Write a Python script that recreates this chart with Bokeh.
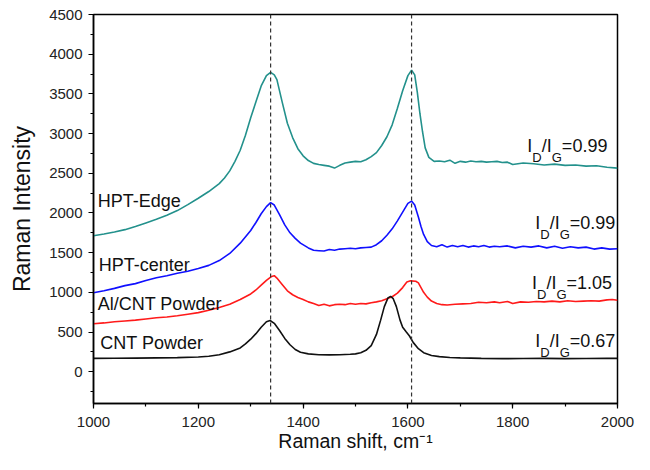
from bokeh.plotting import figure
from bokeh.models import Range1d, SingleIntervalTicker, Span, Label
from bokeh.embed import file_html
from bokeh.resources import INLINE

# ---------------- data ----------------
edge_x = [1000, 1020, 1040, 1060, 1080, 1100, 1120, 1140, 1160, 1180, 1200, 1220, 1240, 1250,
          1260, 1270, 1280, 1290, 1300, 1310, 1320, 1330, 1338, 1345, 1350, 1360, 1370, 1380,
          1390, 1400, 1410, 1420, 1430, 1440, 1450, 1460, 1470, 1480, 1490, 1500, 1510, 1520,
          1530, 1540, 1550, 1560, 1570, 1580, 1590, 1600, 1607, 1613, 1618, 1623, 1628, 1633,
          1640, 1650, 1660, 1670, 1680, 1690, 1700, 1710, 1720, 1730, 1740, 1750, 1760, 1770,
          1780, 1790, 1800, 1820, 1840, 1860, 1880, 1900, 1920, 1940, 1960, 1980, 2000]
edge_y = [1713, 1735, 1760, 1790, 1830, 1875, 1920, 1970, 2030, 2105, 2185, 2270, 2370, 2440,
          2530, 2650, 2790, 2980, 3200, 3400, 3600, 3730, 3770, 3740, 3680, 3400, 3130, 2950,
          2810, 2720, 2660, 2625, 2610, 2600, 2590, 2565, 2600, 2630, 2640, 2650, 2645, 2670,
          2710, 2760, 2850, 2960, 3110, 3320, 3540, 3730, 3800, 3740, 3520, 3250, 3020, 2820,
          2700, 2650, 2655, 2645, 2665, 2625, 2650, 2640, 2655, 2645, 2650, 2640, 2645, 2650,
          2635, 2640, 2610, 2630, 2620, 2605, 2615, 2600, 2605, 2590, 2595, 2575, 2565]

center_x = [1000, 1020, 1040, 1060, 1080, 1100, 1120, 1140, 1160, 1180, 1200, 1220, 1240, 1260,
            1280, 1300, 1310, 1320, 1330, 1338, 1345, 1355, 1365, 1375, 1385, 1395, 1410, 1420,
            1430, 1440, 1450, 1460, 1470, 1480, 1490, 1500, 1510, 1520, 1530, 1540, 1550, 1560,
            1570, 1580, 1590, 1600, 1607, 1613, 1620, 1625, 1630, 1637, 1645, 1655, 1665, 1675,
            1685, 1695, 1705, 1715, 1725, 1735, 1745, 1755, 1765, 1775, 1790, 1805, 1820, 1835,
            1850, 1865, 1880, 1895, 1910, 1925, 1940, 1955, 1970, 1985, 2000]
center_y = [995, 1020, 1050, 1085, 1110, 1150, 1185, 1210, 1240, 1265, 1300, 1340, 1400, 1490,
            1620, 1780, 1880, 1990, 2080, 2130, 2100, 1980, 1850, 1750, 1680, 1620, 1560, 1530,
            1525, 1520, 1540, 1530, 1545, 1550, 1555, 1550, 1560, 1565, 1570, 1600, 1650, 1720,
            1800, 1900, 2010, 2120, 2150, 2100, 1950, 1830, 1730, 1640, 1590, 1575, 1600, 1570,
            1590, 1575, 1590, 1570, 1585, 1575, 1590, 1570, 1580, 1575, 1585, 1560, 1580, 1570,
            1585, 1560, 1580, 1555, 1575, 1560, 1570, 1545, 1560, 1545, 1550]

alcnt_x = [1000, 1020, 1040, 1060, 1080, 1100, 1120, 1140, 1160, 1180, 1200, 1220, 1240, 1260,
           1280, 1300, 1310, 1320, 1330, 1340, 1345, 1350, 1360, 1370, 1380, 1390, 1400, 1410,
           1420, 1430, 1440, 1450, 1460, 1470, 1480, 1490, 1500, 1510, 1520, 1530, 1540, 1550,
           1560, 1570, 1580, 1590, 1598, 1605, 1615, 1620, 1625, 1630, 1637, 1645, 1655, 1665,
           1675, 1690, 1705, 1720, 1735, 1750, 1765, 1775, 1790, 1800, 1815, 1830, 1845, 1860,
           1875, 1890, 1905, 1920, 1935, 1950, 1965, 1980, 1990, 2000]
alcnt_y = [605, 615, 630, 640, 650, 665, 680, 690, 705, 725, 745, 775, 810, 850,
           910, 980, 1030, 1090, 1150, 1200, 1210, 1180, 1100, 1020, 970, 935, 910, 880,
           860, 835, 850, 830, 845, 850, 845, 860, 850, 860, 855, 870, 880, 895,
           920, 945, 990, 1060, 1130, 1145, 1140, 1120, 1060, 1000, 940, 890, 860, 845,
           840, 850, 855, 860, 875, 870, 880, 870, 885, 860, 880, 875, 885, 880,
           890, 880, 895, 885, 890, 895, 890, 905, 910, 900]

cnt_x = [1000, 1040, 1080, 1120, 1160, 1200, 1220, 1240, 1260, 1280, 1290, 1300, 1310, 1320,
         1330, 1337, 1345, 1355, 1365, 1375, 1385, 1395, 1410, 1430, 1450, 1470, 1490, 1500,
         1510, 1520, 1530, 1540, 1548, 1555, 1562, 1567, 1572, 1578, 1585, 1590, 1597, 1603,
         1610, 1620, 1630, 1645, 1660, 1680, 1700, 1740, 1780, 1820, 1860, 1900, 1940, 1980, 2000]
cnt_y = [168, 170, 172, 175, 178, 185, 195, 215, 250, 300, 350, 410, 480, 560,
         630, 645, 610, 520, 420, 340, 280, 245, 225, 215, 212, 215, 220, 225,
         240, 270, 330, 470, 650, 820, 930, 950, 920, 820, 650, 560, 500, 450,
         370, 290, 240, 205, 190, 180, 175, 168, 165, 167, 168, 165, 166, 168, 168]

series_names = ["HPT-Edge", "HPT-center", "Al/CNT Powder", "CNT Powder"]
series_colors = ["#23918c", "#1010ff", "#ff1a1a", "#111111"]
ratio_values = ["0.99", "0.99", "1.05", "0.67"]
band_positions = [1338, 1607]  # D and G bands

# annotation anchors (data units, vertical centre of the text)
name_x = [1008, 1010, 1008, 1013]
name_y = [2151, 1347, 848, 357]
ratio_x = [1828, 1843, 1837, 1843]
ratio_y = [2846, 1869, 1117, 390]

FONT = "Liberation Sans"

p = figure(width=650, height=470, output_backend="svg", toolbar_location=None,
           x_range=Range1d(1000, 2000), y_range=Range1d(-400, 4500),
           min_border_left=93, min_border_right=33, min_border_top=14, min_border_bottom=67)
p.background_fill_color = "white"
p.border_fill_color = "white"
p.xgrid.visible = False
p.ygrid.visible = False
p.outline_line_color = "black"
p.outline_line_width = 1.5
p.outline_line_alpha = 1.0

p.xaxis.ticker = SingleIntervalTicker(interval=200, num_minor_ticks=2)
p.yaxis.ticker = SingleIntervalTicker(interval=500, num_minor_ticks=2)
for ax in (p.xaxis[0], p.yaxis[0]):
    ax.axis_line_color = "black"
    ax.axis_line_width = 1.5
    ax.major_tick_line_color = "black"
    ax.minor_tick_line_color = "black"
    ax.major_tick_line_width = 1.2
    ax.minor_tick_line_width = 1.2
    ax.major_tick_out = 5
    ax.major_tick_in = 0
    ax.minor_tick_out = 3
    ax.minor_tick_in = 0
    ax.major_label_text_font = FONT
    ax.major_label_text_font_size = "15px"
    ax.major_label_text_color = "#222222"
    ax.axis_label_text_font = FONT
    ax.axis_label_text_font_style = "normal"
    ax.axis_label_text_color = "#111111"
p.xaxis.axis_label = "Raman shift, cm\u207b\u00b9"
p.xaxis.axis_label_text_font_size = "19.5px"
p.xaxis.major_label_standoff = 8
p.xaxis.axis_label_standoff = 0
p.yaxis.axis_label = "Raman Intensity"
p.yaxis.axis_label_text_font_size = "23px"
p.yaxis.major_label_standoff = 6
p.yaxis.axis_label_standoff = 11

for b in band_positions:
    p.add_layout(Span(location=b, dimension="height", line_color="#333333",
                      line_width=1.2, line_dash="4 3"))

xs = [edge_x, center_x, alcnt_x, cnt_x]
ys = [edge_y, center_y, alcnt_y, cnt_y]
for sx, sy, c in zip(xs, ys, series_colors):
    p.line(sx, sy, line_color=c, line_width=1.6)

for name, nx, ny in zip(series_names, name_x, name_y):
    p.add_layout(Label(x=nx, y=ny, text=name, text_font=FONT, text_font_size="18px",
                       text_color="#111111", text_baseline="middle"))

pieces = [("I", 0, 0, "18px"), ("D", 5.0, -11.5, "13px"), ("/I", 14.4, 0, "18px"),
          ("G", 24.4, -11.5, "13px")]
for val, rx, ry in zip(ratio_values, ratio_x, ratio_y):
    for txt, dx, dy, fs in pieces:
        p.add_layout(Label(x=rx, y=ry, x_offset=dx, y_offset=dy, text=txt, text_font=FONT,
                           text_font_size=fs, text_color="#111111", text_baseline="middle"))
    p.add_layout(Label(x=rx, y=ry, x_offset=34.5, text="=" + val, text_font=FONT,
                       text_font_size="18px", text_color="#111111", text_baseline="middle"))

open("out.html", "w").write(file_html(p, INLINE))
